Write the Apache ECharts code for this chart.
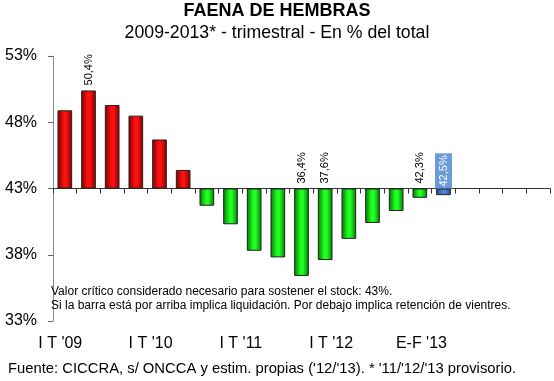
<!DOCTYPE html>
<html><head><meta charset="utf-8">
<script src="https://cdn.jsdelivr.net/npm/echarts@6/dist/echarts.min.js"></script>
<style>html,body{margin:0;padding:0;background:#fff}#c{width:554px;height:381px}</style>
</head><body><div id="c"></div>
<script>
const quarters = ["I T '09","II T '09","III T '09","IV T '09","I T '10","II T '10","III T '10","IV T '10","I T '11","II T '11","III T '11","IV T '11","I T '12","II T '12","III T '12","IV T '12","E-F '13","","","",""];
const tickLabels = ["I T '09","","","","I T '10","","","","I T '11","","","","I T '12","","","","E-F '13","","","",""];
const values = [48.9,50.4,49.3,48.5,46.7,44.4,41.7,40.3,38.3,37.8,36.4,37.6,39.2,40.4,41.3,42.3,42.5];
const labelled = [1,10,11,15,16];
const highlightIndex = 16;
const baseline = 43;
const yTicks = {min:33,max:53,step:5};
const noteLines = ["Valor crítico considerado necesario para sostener el stock: 43%.","Si la barra está por arriba implica liquidación. Por debajo implica retención de vientres."];

const F = '"Liberation Sans", Arial, sans-serif';
function grad(edge, mid){
  return {type:'linear',x:0,y:0,x2:1,y2:0,colorStops:[
    {offset:0,color:edge},{offset:0.45,color:mid},{offset:0.6,color:mid},{offset:1,color:edge}]};
}
const data = values.map((v,i)=>{
  const d = v - baseline;
  let color;
  if(i===highlightIndex) color = grad('#1f4f8f','#4f85cc');
  else if(v>=baseline) color = grad('#7a0000','#ff1010');
  else color = grad('#007a00','#22ff22');
  const item = {value:d, real:v, itemStyle:{color:color}};
  if(labelled.indexOf(i)>=0){
    item.label = {show:true};
    if(i===highlightIndex){
      item.label.color='#fff';
      item.label.backgroundColor='#6b9bd9';
      item.label.padding=[2,2,4,2];
      item.label.distance=0;
    }
  }
  return item;
});

const chart = echarts.init(document.getElementById('c'));
chart.setOption({
  animation:false,
  textStyle:{fontFamily:F},
  title:[
    {text:'FAENA DE HEMBRAS',left:'center',top:2,padding:[0,0,0,0],
     textStyle:{fontFamily:F,fontSize:18,fontWeight:'bold',color:'#000'}},
    {text:'2009-2013* - trimestral - En % del total',left:'center',top:24,padding:0,
     textStyle:{fontFamily:F,fontSize:17.7,fontWeight:'normal',color:'#000'}},
    {text:noteLines.join('\n'),left:51,top:285,padding:0,
     textStyle:{fontFamily:F,fontSize:12,fontWeight:'normal',color:'#000',lineHeight:13.5}},
    {text:"Fuente: CICCRA, s/ ONCCA y estim. propias ('12/'13). * '11/'12/'13 provisorio.",left:8,top:361,padding:0,
     textStyle:{fontFamily:F,fontSize:14.8,fontWeight:'normal',color:'#000'}}
  ],
  grid:[
    {left:53,right:4,top:56,bottom:60},
    {left:49,width:474,top:56,bottom:60}
  ],
  xAxis:[
    {type:'category',data:quarters,gridIndex:0,boundaryGap:true,
     axisLine:{onZero:true,lineStyle:{color:'#333',width:1}},
     axisTick:{show:true,interval:0,length:5,lineStyle:{color:'#333'}},
     axisLabel:{show:false}},
    {type:'category',data:tickLabels,gridIndex:1,position:'bottom',
     axisLine:{show:false,onZero:false},axisTick:{show:false},
     axisLabel:{interval:0,margin:15,fontSize:16,color:'#000',fontFamily:F}}
  ],
  yAxis:[
    {type:'value',gridIndex:0,min:yTicks.min-baseline,max:yTicks.max-baseline,interval:yTicks.step,
     splitLine:{show:false},
     axisLine:{show:true,lineStyle:{color:'#888'}},
     axisTick:{show:true,length:5,lineStyle:{color:'#666'}},
     axisLabel:{formatter:v=>(v+baseline)+'%',fontSize:16,color:'#000',fontFamily:F,margin:16}},
    {type:'value',gridIndex:1,show:false,min:0,max:1}
  ],
  series:[{
    type:'bar',xAxisIndex:0,yAxisIndex:0,data:data,barWidth:'62%',
    itemStyle:{borderColor:'#222',borderWidth:1},
    label:{show:false,position:'top',rotate:90,distance:5,align:'left',verticalAlign:'middle',
      fontSize:11,color:'#000',fontFamily:F,
      formatter:p=>p.data.real.toFixed(1).replace('.',',')+'%'}
  }]
});
</script></body></html>
